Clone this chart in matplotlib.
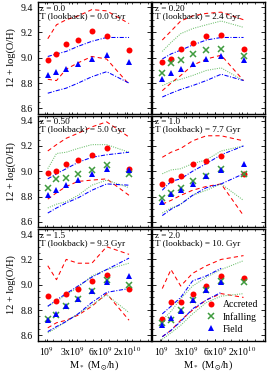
import numpy as np
import matplotlib
matplotlib.use("Agg")
import matplotlib.pyplot as plt
from matplotlib.ticker import MultipleLocator, FixedLocator

# ── Data ──────────────────────────────────────────────
# x positions of the stellar-mass bins, in axis units (0..10 across the panel)
XBIN = [0.91, 1.68, 2.54, 3.59, 4.81, 6.12, 8.10]
XTICK_POS = [0.82, 3.05, 5.58, 7.96]
XTICK_LAB = [r"10$^9$", r"3x10$^9$", r"6x10$^9$", r"2x10$^{10}$"]

Z_LAB = ["z = 0.0", "z = 0.20", "z = 0.50", "z = 1.0", "z = 1.5", "z = 2.0"]
T_LAB = ["0.0 Gyr", "2.4 Gyr", "5.0 Gyr", "7.7 Gyr", "9.3 Gyr", "10. Gyr"]

nan = np.nan

acc_med = [
    [8.98, 9.03, 9.11, 9.14, 9.21, 9.17, 9.06],
    [8.97, 8.99, 9.07, 9.12, 9.17, 9.18, 9.07],
    [8.99, 9.00, 9.06, 9.09, 9.13, 9.18, 9.02],
    [8.90, 8.93, 8.96, 9.06, 9.08, 9.12, 8.98],
    [8.91, 8.87, 8.93, 8.97, 9.03, 9.08, 8.97],
    [8.73, 8.86, 8.86, 8.93, 8.99, 9.07, 9.05],
]
acc_hi = [
    [9.15, 9.26, 9.30, 9.33, 9.38, 9.37, 9.27],
    [9.14, 9.21, 9.29, 9.33, 9.35, 9.36, 9.30],
    [9.16, 9.21, 9.26, 9.30, 9.35, 9.39, 9.27],
    [9.11, 9.15, 9.18, 9.24, 9.28, 9.28, 9.24],
    [9.15, 9.04, 9.20, 9.17, 9.17, 9.30, 9.24],
    [8.97, 9.12, 8.99, 9.09, 9.15, 9.20, 9.23],
]
acc_lo = [
    [8.83, 8.82, 8.91, 8.96, 9.01, 8.99, 8.79],
    [8.74, 8.80, 8.86, 8.94, 8.99, 9.02, 8.82],
    [8.78, 8.83, 8.88, 8.92, 8.93, 8.94, 8.81],
    [8.74, 8.77, 8.81, 8.85, 8.88, 8.90, 8.65],
    [8.66, 8.70, 8.72, 8.76, 8.83, 8.93, 8.72],
    [8.59, 8.64, 8.72, 8.80, 8.88, 8.93, 8.90],
]

inf_med = [
    [nan] * 7,
    [8.88, 8.96, 8.98, 9.03, 9.06, 9.07, 9.01],
    [8.87, 8.94, 8.95, 8.98, 9.01, 9.05, 8.98],
    [8.79, 8.83, 8.87, 8.92, 8.96, 9.02, 8.98],
    [8.73, 8.76, 8.83, 8.89, 8.95, 9.04, 9.00],
    [8.70, 8.72, 8.80, 8.88, 8.96, 9.03, 9.02],
]
inf_hi = [
    [nan] * 7,
    [9.05, 9.12, 9.19, 9.23, 9.26, 9.29, 9.24],
    [9.02, 9.14, 9.15, 9.18, 9.21, 9.21, 9.15],
    [8.98, 9.01, 9.02, 9.06, 9.09, 9.16, 9.20],
    [8.83, 8.87, 8.92, 8.98, 9.07, 9.12, 9.17],
    [8.72, 8.79, 8.89, 8.99, 9.06, 9.12, 9.19],
]
inf_lo = [
    [nan] * 7,
    [8.78, 8.81, 8.83, 8.86, 8.90, 8.92, 8.82],
    [8.71, 8.74, 8.76, 8.81, 8.89, 8.93, 8.87],
    [8.67, 8.71, 8.74, 8.81, 8.85, 8.90, 8.77],
    [8.62, 8.66, 8.71, 8.77, 8.84, 8.92, 8.78],
    [8.57, 8.62, 8.68, 8.77, 8.86, 8.91, 8.93],
]

fld_med = [
    [8.86, 8.89, 8.91, 8.95, 8.99, 9.02, 8.97],
    [8.83, 8.88, 8.91, 8.95, 8.99, 9.01, 8.98],
    [8.81, 8.85, 8.89, 8.93, 8.98, 9.02, 9.01],
    [8.76, 8.82, 8.85, 8.90, 8.96, 9.01, 9.06],
    [8.72, 8.77, 8.83, 8.89, 8.95, 9.02, 9.07],
    [8.68, 8.74, 8.79, 8.88, 8.96, 9.02, nan],
]
fld_hi = [
    [9.01, 9.03, 9.05, 9.09, 9.13, 9.16, 9.16],
    [8.99, 9.03, 9.06, 9.10, 9.14, 9.16, 9.16],
    [8.94, 8.98, 9.02, 9.07, 9.11, 9.13, 9.15],
    [8.85, 8.92, 8.94, 9.00, 9.06, 9.13, 9.20],
    [8.83, 8.88, 8.93, 8.99, 9.06, 9.12, 9.21],
    [8.77, 8.83, 8.90, 9.03, 9.07, 9.13, nan],
]
fld_lo = [
    [8.72, 8.74, 8.76, 8.80, 8.85, 8.89, 8.80],
    [8.69, 8.72, 8.75, 8.78, 8.82, 8.87, 8.82],
    [8.67, 8.71, 8.75, 8.79, 8.85, 8.90, 8.89],
    [8.65, 8.70, 8.74, 8.81, 8.87, 8.90, 8.98],
    [8.63, 8.67, 8.71, 8.77, 8.86, 8.94, 8.97],
    [8.59, 8.64, 8.71, 8.81, 8.88, 8.94, nan],
]

# ── Style ─────────────────────────────────────────────
RED = "#ff0000"
GREEN = "#3f9b3f"
GREEN_L = "#6cbf6c"
BLUE = "#0000ff"

plt.rcParams.update({
    "font.family": ["Liberation Serif", "DejaVu Serif"],
    "mathtext.fontset": "stix",
    "axes.linewidth": 1.0,
    "xtick.direction": "in", "ytick.direction": "in",
    "xtick.top": True, "ytick.right": True,
    "xtick.major.size": 3, "ytick.major.size": 3,
    "xtick.minor.size": 1.5, "ytick.minor.size": 1.5,
    "xtick.major.width": 0.6, "ytick.major.width": 0.6,
    "xtick.minor.width": 0.5, "ytick.minor.width": 0.5,
    "xtick.labelsize": 7, "ytick.labelsize": 7,
})

W, H = 272, 375
fig = plt.figure(figsize=(W / 100, H / 100), dpi=100)

col_left = [37.5, 152.0]
col_w = 113.0
row_top = [2.0, 115.5, 229.0]
row_h = 111.5

axes = []
for r in range(3):
    for c in range(2):
        ax = fig.add_axes([col_left[c] / W, 1 - (row_top[r] + row_h) / H, col_w / W, row_h / H])
        axes.append(ax)

for i, ax in enumerate(axes):
    r, c = divmod(i, 2)
    lw = 0.75
    ax.plot(XBIN, acc_hi[i], color=RED, ls=(0, (4, 3)), lw=lw)
    ax.plot(XBIN, acc_lo[i], color=RED, ls=(0, (4, 3)), lw=lw)
    ax.plot(XBIN, inf_hi[i], color=GREEN_L, ls=(0, (1, 1.2)), lw=lw)
    ax.plot(XBIN, inf_lo[i], color=GREEN_L, ls=(0, (1, 1.2)), lw=lw)
    ax.plot(XBIN, fld_hi[i], color=BLUE, ls=(0, (4, 1.5, 1, 1.5)), lw=lw)
    ax.plot(XBIN, fld_lo[i], color=BLUE, ls=(0, (4, 1.5, 1, 1.5)), lw=lw)

    ax.plot(XBIN, acc_med[i], "o", color=RED, ms=4.3, mew=0, label="Accreted", zorder=5)
    ax.plot(XBIN, inf_med[i], "x", color=GREEN, ms=4.5, mew=1.1, label="Infalling", zorder=6)
    ax.plot(XBIN, fld_med[i], "^", color=BLUE, ms=4.3, mew=0, label="Field", zorder=7)

    ax.set_xlim(0, 10)
    ax.set_ylim(8.56, 9.44)
    ax.yaxis.set_major_locator(MultipleLocator(0.2))
    ax.yaxis.set_minor_locator(MultipleLocator(0.05))
    ax.xaxis.set_major_locator(FixedLocator(XTICK_POS))
    ax.xaxis.set_minor_locator(MultipleLocator(0.7))
    ax.tick_params(axis="x", which="major", length=1.5)

    ax.text(0.025, 0.975, f"{Z_LAB[i]}\nT (lookback) = {T_LAB[i]}",
            transform=ax.transAxes, ha="left", va="top", fontsize=6.6, linespacing=1.0)

    if c == 0:
        ax.set_ylabel("12 + log(O/H)", fontsize=7.5, labelpad=3)
    else:
        ax.set_yticklabels([])
    if r == 2:
        ax.set_xticklabels(XTICK_LAB)
        ax.tick_params(axis="x", pad=3)
        ax.set_xlabel(r"M$_*$ (M$_{\odot}$/h)", fontsize=7.5, labelpad=0)
    else:
        ax.set_xticklabels([])

axes[5].legend(loc="lower right", frameon=False, fontsize=7, handlelength=1.2,
               handletextpad=0.6, labelspacing=0.3, borderaxespad=0.3)

plt.savefig("out.png", dpi=100)
